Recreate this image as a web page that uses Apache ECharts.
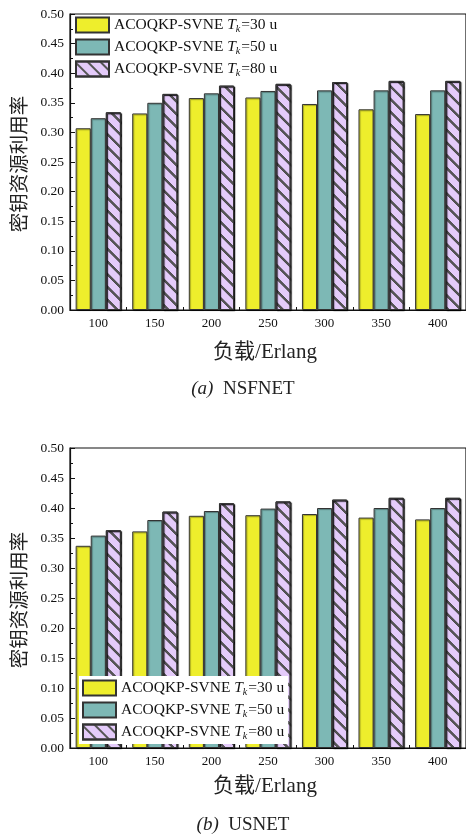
<!DOCTYPE html>
<html><head><meta charset="utf-8">
<script src="https://cdn.jsdelivr.net/npm/echarts@6/dist/echarts.min.js"></script>
<style>html,body{margin:0;padding:0;background:#fff}#c{width:466px;height:836px}</style>
</head><body><div id="c"></div>
<script>
const categories = ['100', '150', '200', '250', '300', '350', '400'];
const seriesKeys = ['T30', 'T50', 'T80'];
const seriesValuesLabel = ['30', '50', '80'];
const nsfnetT30 = [0.307, 0.332, 0.358, 0.359, 0.348, 0.339, 0.331];
const nsfnetT50 = [0.324, 0.350, 0.366, 0.370, 0.371, 0.371, 0.371];
const nsfnetT80 = [0.334, 0.365, 0.379, 0.382, 0.385, 0.387, 0.387];
const usnetT30 = [0.337, 0.361, 0.387, 0.388, 0.390, 0.384, 0.381];
const usnetT50 = [0.354, 0.380, 0.395, 0.399, 0.400, 0.400, 0.400];
const usnetT80 = [0.363, 0.394, 0.408, 0.411, 0.414, 0.417, 0.417];
const yTicks = ['0.00','0.05','0.10','0.15','0.20','0.25','0.30','0.35','0.40','0.45','0.50'];

const serif = '"Liberation Serif", "Times New Roman", serif';
const cjk = '"Liberation Serif", "Noto Sans CJK SC", serif';
const colors = ['#eeee2c', '#7db8b5', '#e4cbfa'];

const chart = echarts.init(document.getElementById('c'), null, {renderer: 'canvas'});

function legendCfg(left, top, bg) {
  return {
    orient: 'vertical', left: left, top: top,
    icon: 'rect',
    itemWidth: 33, itemHeight: 15, itemGap: 4,
    padding: [3, 4, 3, 3],
    backgroundColor: bg,
    data: seriesKeys,
    formatter: function (name) {
      const v = seriesValuesLabel[seriesKeys.indexOf(name)];
      return '{n|ACOQKP-SVNE }{t|T}{k|k}{n|=' + v + ' u}';
    },
    textStyle: {
      color: '#111', fontFamily: serif, fontSize: 15.5,
      rich: {
        n: {fontFamily: serif, fontSize: 15.5, color: '#111', lineHeight: 18},
        t: {fontFamily: serif, fontSize: 15.5, fontStyle: 'italic', color: '#111', lineHeight: 18},
        k: {fontFamily: serif, fontSize: 10, fontStyle: 'italic', color: '#111', padding: [8, 1, 0, 0], lineHeight: 18}
      }
    }
  };
}

function xAxisCfg(gi) {
  return {
    type: 'category', gridIndex: gi, data: categories,
    axisLine: {lineStyle: {color: '#111', width: 1.2}},
    axisTick: {show: true, inside: true, length: 3, lineStyle: {color: '#111'}},
    axisLabel: {color: '#111', fontFamily: serif, fontSize: 13, margin: 7}
  };
}
function yAxisCfg(gi) {
  return {
    type: 'value', gridIndex: gi, min: 0, max: 0.5, interval: 0.05,
    axisLine: {show: true, lineStyle: {color: '#111', width: 1.2}},
    axisTick: {show: true, inside: true, length: 5, lineStyle: {color: '#111'}},
    minorTick: {show: true, splitNumber: 2, length: 3, lineStyle: {color: '#111'}},
    splitLine: {show: false},
    axisLabel: {color: '#111', fontFamily: serif, fontSize: 13.5, margin: 6,
      formatter: function (v) { return yTicks[Math.round(v / 0.05)]; }}
  };
}
function barSeries(name, data, idx, gi) {
  const s = {
    name: name, type: 'bar', data: data, xAxisIndex: gi, yAxisIndex: gi,
    barGap: '0%', barCategoryGap: '20%',
    itemStyle: {
      color: colors[idx], borderColor: '#333', borderWidth: 1,
      shadowColor: 'rgba(0,0,0,0.35)', shadowOffsetX: 1, shadowOffsetY: 1, shadowBlur: 1
    }
  };
  if (idx === 2) {
    s.itemStyle.decal = {
      symbol: 'rect', color: '#555', backgroundColor: null,
      dashArrayX: [1, 0], dashArrayY: [1.2, 7], rotation: Math.PI / 4
    };
  }
  return s;
}

const option = {
  animation: false,
  backgroundColor: '#fff',
  grid: [
    {left: 70, top: 14, width: 401, height: 296, show: true, borderColor: '#111', borderWidth: 1.2, backgroundColor: 'transparent'},
    {left: 70, top: 448, width: 401, height: 300, show: true, borderColor: '#111', borderWidth: 1.2, backgroundColor: 'transparent'}
  ],
  legend: [legendCfg(72, 13, 'transparent'), legendCfg(79, 676, '#fff')],
  xAxis: [xAxisCfg(0), xAxisCfg(1)],
  yAxis: [yAxisCfg(0), yAxisCfg(1)],
  series: [
    barSeries('T30', nsfnetT30, 0, 0),
    barSeries('T50', nsfnetT50, 1, 0),
    barSeries('T80', nsfnetT80, 2, 0),
    barSeries('T30', usnetT30, 0, 1),
    barSeries('T50', usnetT50, 1, 1),
    barSeries('T80', usnetT80, 2, 1)
  ],
  graphic: [
    {type: 'text', x: 21, y: 164, rotation: Math.PI / 2, style: {text: '密钥资源利用率', font: '19.5px ' + cjk, fill: '#222', textAlign: 'center', textVerticalAlign: 'middle'}},
    {type: 'text', x: 21, y: 600, rotation: Math.PI / 2, style: {text: '密钥资源利用率', font: '19.5px ' + cjk, fill: '#222', textAlign: 'center', textVerticalAlign: 'middle'}},
    {type: 'text', x: 265, y: 352, style: {text: '负载/Erlang', font: '21px ' + cjk, fill: '#222', textAlign: 'center', textVerticalAlign: 'middle'}},
    {type: 'text', x: 265, y: 786, style: {text: '负载/Erlang', font: '21px ' + cjk, fill: '#222', textAlign: 'center', textVerticalAlign: 'middle'}},
    {type: 'text', x: 243, y: 389, style: {text: '{i|(a)}{n|  NSFNET}', textAlign: 'center', textVerticalAlign: 'middle',
      rich: {i: {fontFamily: serif, fontStyle: 'italic', fontSize: 19, fill: '#222'}, n: {fontFamily: serif, fontSize: 19, fill: '#222'}}}},
    {type: 'text', x: 243, y: 825, style: {text: '{i|(b)}{n|  USNET}', textAlign: 'center', textVerticalAlign: 'middle',
      rich: {i: {fontFamily: serif, fontStyle: 'italic', fontSize: 19, fill: '#222'}, n: {fontFamily: serif, fontSize: 19, fill: '#222'}}}}
  ]
};
chart.setOption(option);
</script></body></html>
